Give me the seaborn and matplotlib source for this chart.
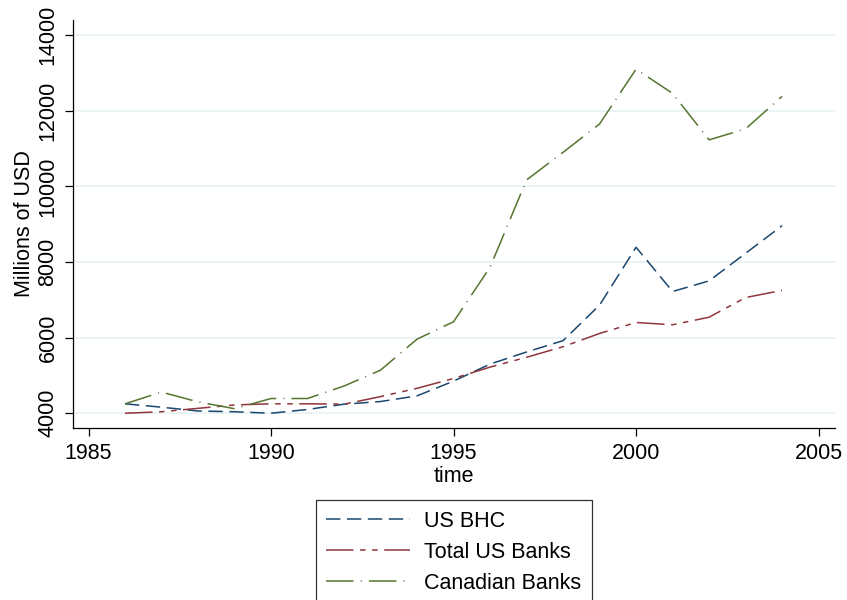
import matplotlib
matplotlib.use("Agg")
import matplotlib.pyplot as plt
import seaborn as sns
import pandas as pd
from matplotlib.lines import Line2D

years = list(range(1986, 2005))
us_bhc = [4250, 4160, 4060, 4040, 4000, 4100, 4240, 4310, 4460, 4850, 5300,
          5620, 5920, 6860, 8390, 7220, 7500, 8230, 8960]
total_us = [4000, 4040, 4130, 4220, 4250, 4250, 4240, 4440, 4660, 4920, 5220,
            5480, 5760, 6110, 6400, 6340, 6540, 7060, 7250]
canadian = [4250, 4560, 4300, 4120, 4390, 4390, 4720, 5140, 5960, 6420, 7860,
            10170, 10900, 11650, 13100, 12460, 11230, 11520, 12380]
series_names = ["US BHC", "Total US Banks", "Canadian Banks"]

df = pd.DataFrame({
    "time": years * 3,
    "value": us_bhc + total_us + canadian,
    "series": [series_names[0]] * len(years) + [series_names[1]] * len(years)
              + [series_names[2]] * len(years),
})

sns.set_theme(style="white")
plt.rcParams["font.family"] = ["Liberation Sans", "DejaVu Sans"]
plt.rcParams["text.color"] = "black"
plt.rcParams["axes.labelcolor"] = "black"
plt.rcParams["xtick.color"] = "black"
plt.rcParams["ytick.color"] = "black"

colors = {"US BHC": "#1a476f", "Total US Banks": "#90353b", "Canadian Banks": "#55752f"}
dashes = {
    "US BHC": (9.4, 4.3),
    "Total US Banks": (18, 4.3, 3.6, 4.3, 3.6, 4.3),
    "Canadian Banks": (18, 4.7, 0.7, 4.7),
}

fig = plt.figure(figsize=(8.47, 6.0), dpi=100)
ax = fig.add_axes([73 / 847, 172 / 600, 762 / 847, 408 / 600])

sns.lineplot(data=df, x="time", y="value", hue="series", style="series",
             palette=colors, dashes=dashes, linewidth=1.1, ax=ax, legend=False)

ax.set_xlim(1984.575, 2005.45)
ax.set_ylim(3610, 14400)
ax.set_xticks([1985, 1990, 1995, 2000, 2005])
ax.set_yticks([4000, 6000, 8000, 10000, 12000, 14000])
ax.grid(axis="y", color="#eaf2f3", linewidth=1.3)
ax.grid(axis="x", visible=False)
for s in ["top", "right"]:
    ax.spines[s].set_visible(False)
for s in ["left", "bottom"]:
    ax.spines[s].set_color("black")
    ax.spines[s].set_linewidth(0.9)
ax.tick_params(axis="both", which="major", direction="out", length=5.5, width=0.9,
               color="black", labelcolor="black", labelsize=15.5, pad=5,
               bottom=True, left=True)
for lab in ax.get_yticklabels():
    lab.set_rotation(90)
    lab.set_va("center")
ax.set_xlabel("time", fontsize=15.5, labelpad=2, color="black")
ax.set_ylabel("Millions of USD", fontsize=15.5, labelpad=2, color="black")

handles = []
for name in series_names:
    h = Line2D([0], [0], color=colors[name], linewidth=1.1)
    h.set_dashes(dashes[name])
    handles.append(h)
leg = fig.legend(handles, series_names, loc="upper center",
                 bbox_to_anchor=(454 / 847, 1 - 500 / 600), fontsize=15.5,
                 frameon=True, fancybox=False, handlelength=3.9,
                 handletextpad=0.65, labelspacing=0.46, borderpad=0.5,
                 borderaxespad=0)
leg.get_frame().set_edgecolor("black")
leg.get_frame().set_linewidth(0.9)
for t in leg.get_texts():
    t.set_color("black")

fig.savefig("out.png", dpi=100)
